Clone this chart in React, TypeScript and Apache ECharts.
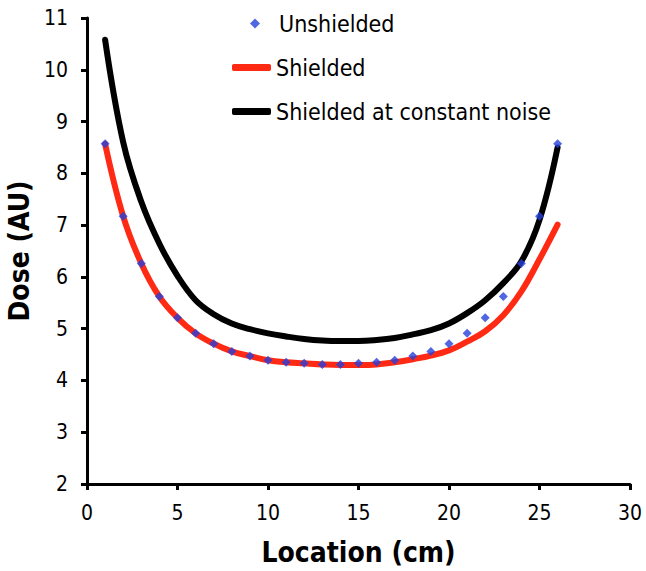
import React, { useEffect, useRef } from "react";
import * as echarts from "echarts";

const locations = [1, 2, 3, 4, 5, 6, 7, 8, 9, 10, 11, 12, 13, 14, 15, 16, 17, 18, 19, 20, 21, 22, 23, 24, 25, 26];
const unshielded = [8.57, 7.17, 6.26, 5.62, 5.21, 4.91, 4.71, 4.56, 4.47, 4.39, 4.35, 4.33, 4.31, 4.31, 4.33, 4.35, 4.39, 4.47, 4.56, 4.71, 4.91, 5.21, 5.62, 6.26, 7.17, 8.57];
const shielded = [8.57, 7.17, 6.26, 5.62, 5.21, 4.91, 4.71, 4.56, 4.47, 4.39, 4.35, 4.33, 4.31, 4.30, 4.30, 4.31, 4.35, 4.41, 4.48, 4.58, 4.75, 4.95, 5.26, 5.72, 6.34, 7.01];
const shieldedConstNoise = [10.58, 8.6, 7.45, 6.64, 6.02, 5.55, 5.28, 5.1, 4.99, 4.91, 4.85, 4.8, 4.77, 4.76, 4.76, 4.78, 4.82, 4.89, 4.97, 5.1, 5.3, 5.55, 5.88, 6.3, 7.1, 8.5];
const seriesNames = ["Unshielded", "Shielded", "Shielded at constant noise"];

const FONT = "'DejaVu Sans Condensed', 'DejaVu Sans', sans-serif";
const DIAMOND = "path://M5,0 L10,5 L5,10 L0,5 Z";

export default function App() {
  const ref = useRef<HTMLDivElement>(null);
  useEffect(() => {
    if (!ref.current) return;
    const chart = echarts.init(ref.current, undefined, { renderer: "svg" });
    const pairs = (vals: number[]) => locations.map((x, i) => [x, vals[i]]);
    const legendText = { fontFamily: FONT, fontSize: 23, color: "#000" };
    chart.setOption({
      animation: false,
      backgroundColor: "#ffffff",
      textStyle: { fontFamily: FONT },
      grid: { left: 87, right: 16, top: 18, bottom: 87, containLabel: false, outerBoundsMode: "none" },
      legend: [
        {
          orient: "vertical",
          left: 250,
          top: 12,
          padding: 0,
          itemWidth: 38,
          itemHeight: 10,
          symbolKeepAspect: true,
          textStyle: legendText,
          data: [{ name: seriesNames[0], icon: DIAMOND }],
        },
        {
          orient: "vertical",
          left: 232,
          top: 56,
          padding: 0,
          itemWidth: 39,
          itemHeight: 7,
          itemGap: 21,
          textStyle: legendText,
          data: [
            { name: seriesNames[1], icon: "roundRect" },
            { name: seriesNames[2], icon: "roundRect" },
          ],
        },
      ],
      xAxis: {
        type: "value",
        min: 0,
        max: 30,
        interval: 5,
        name: "Location (cm)",
        nameLocation: "middle",
        nameGap: 54,
        nameTextStyle: { fontFamily: FONT, fontSize: 28, fontWeight: "bold", color: "#000" },
        axisLine: { onZero: false, lineStyle: { color: "#000", width: 3 } },
        axisTick: { show: true, length: 6, lineStyle: { color: "#000", width: 3 } },
        axisLabel: { fontFamily: FONT, fontSize: 21, color: "#000", margin: 18 },
        splitLine: { show: false },
      },
      yAxis: {
        type: "value",
        min: 2,
        max: 11,
        interval: 1,
        name: "Dose (AU)",
        nameLocation: "middle",
        nameGap: 54,
        nameRotate: 90,
        nameTextStyle: { fontFamily: FONT, fontSize: 28, fontWeight: "bold", color: "#000" },
        axisLine: { show: true, onZero: false, lineStyle: { color: "#000", width: 3 } },
        axisTick: { show: true, length: 6, lineStyle: { color: "#000", width: 3 } },
        axisLabel: { fontFamily: FONT, fontSize: 21, color: "#000", margin: 19 },
        splitLine: { show: false },
      },
      series: [
        {
          name: seriesNames[1],
          type: "line",
          data: pairs(shielded),
          smooth: 0.4,
          showSymbol: false,
          symbol: "none",
          color: "#ff2a14",
          itemStyle: { color: "#ff2a14" },
          lineStyle: { color: "#ff2a14", width: 6, cap: "round" },
          z: 2,
        },
        {
          name: seriesNames[2],
          type: "line",
          data: pairs(shieldedConstNoise),
          smooth: 0.4,
          showSymbol: false,
          symbol: "none",
          color: "#000000",
          itemStyle: { color: "#000000" },
          lineStyle: { color: "#000000", width: 6, cap: "round" },
          z: 2,
        },
        {
          name: seriesNames[0],
          type: "scatter",
          data: pairs(unshielded),
          symbol: "diamond",
          symbolSize: 9,
          itemStyle: { color: "#2540d9" },
          z: 3,
        },
      ],
    });
    return () => chart.dispose();
  }, []);
  return <div ref={ref} style={{ width: 646, height: 571, position: "absolute", left: 0, top: 0 }} />;
}
